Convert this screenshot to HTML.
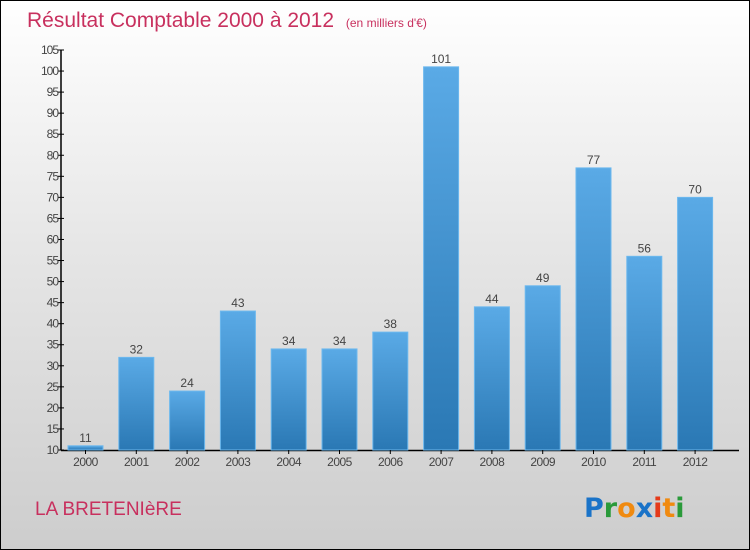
<!DOCTYPE html>
<html><head><meta charset="utf-8"><style>
body{margin:0}
#c{position:relative;width:748px;height:548px;border:1px solid #000;background:linear-gradient(#fff 0%,#e6e6e6 45%,#cdcdcd 100%);font-family:"Liberation Sans",sans-serif;overflow:hidden}
</style></head><body>
<div id="c">
<svg id="s" width="748" height="548" style="position:absolute;left:0;top:0">
<defs><linearGradient id="g" x1="0" y1="0" x2="0" y2="1"><stop offset="0" stop-color="#5aaae6"/><stop offset="1" stop-color="#2a78b4"/></linearGradient></defs>
<text x="26" y="26" font-size="21" fill="#c8305e">Résultat Comptable 2000 à 2012 <tspan font-size="12" dx="6">(en milliers d'€)</tspan></text>
<text x="34" y="514" font-size="19" fill="#c8305e">LA BRETENIèRE</text>
<g font-size="27" font-family="'DejaVu Sans',sans-serif" font-weight="bold">
<text x="583" y="516"><tspan fill="#1a73c8">P</tspan><tspan fill="#2a9a3a">r</tspan><tspan fill="#f08a10">o</tspan><tspan fill="#1a73c8">x</tspan><tspan fill="#e53a1a">i</tspan><tspan fill="#f08a10">t</tspan><tspan fill="#2a9a3a">i</tspan></text>
</g>
<g id="plot"></g>
</svg>
</div>
<script>
const categories=["2000","2001","2002","2003","2004","2005","2006","2007","2008","2009","2010","2011","2012"];
const values=[11,32,24,43,34,34,38,101,44,49,77,56,70];
const yTicks=[10,15,20,25,30,35,40,45,50,55,60,65,70,75,80,85,90,95,100,105];
const NS="http://www.w3.org/2000/svg";
const g=document.getElementById('plot');
const y=v=>449-(v-10)*(400/95);
const x=i=>84.5+i*50.8;
function el(t,a){const e=document.createElementNS(NS,t);for(const k in a)e.setAttribute(k,a[k]);g.appendChild(e);return e;}
const ax=el('line',{x1:60,y1:49,x2:60,y2:449.5,stroke:'#000','stroke-width':1.5});


const bx=el('line',{x1:60,y1:449.5,x2:738,y2:449.5,stroke:'#000','stroke-width':1.5});


yTicks.forEach(t=>{
 const l=el('line',{x1:57,x2:63,y1:y(t),y2:y(t),stroke:'#000'});
 
 
 const tx=el('text',{x:57,y:y(t)+4,'font-size':12,'text-anchor':'end',fill:'#444','letter-spacing':'-1'});
 tx.textContent=t;
 
 
});
categories.forEach((c,i)=>{
 const v=values[i];
 const r=el('rect',{x:x(i)-17.5,y:y(v),width:35,height:449-y(v),fill:'url(#g)',stroke:'#6cb8ee','stroke-width':1});
 
 
 const vt=el('text',{x:x(i),y:y(v)-4,'font-size':12,'text-anchor':'middle',fill:'#444'});
 vt.textContent=v;
 
 
 const tk=el('line',{x1:x(i),x2:x(i),y1:449,y2:453,stroke:'#000'});
 
 
 const ct=el('text',{x:x(i),y:465,'font-size':12,'text-anchor':'middle',fill:'#444','letter-spacing':'-0.5'});
 ct.textContent=c;
 
 
});
</script>
</body></html>
